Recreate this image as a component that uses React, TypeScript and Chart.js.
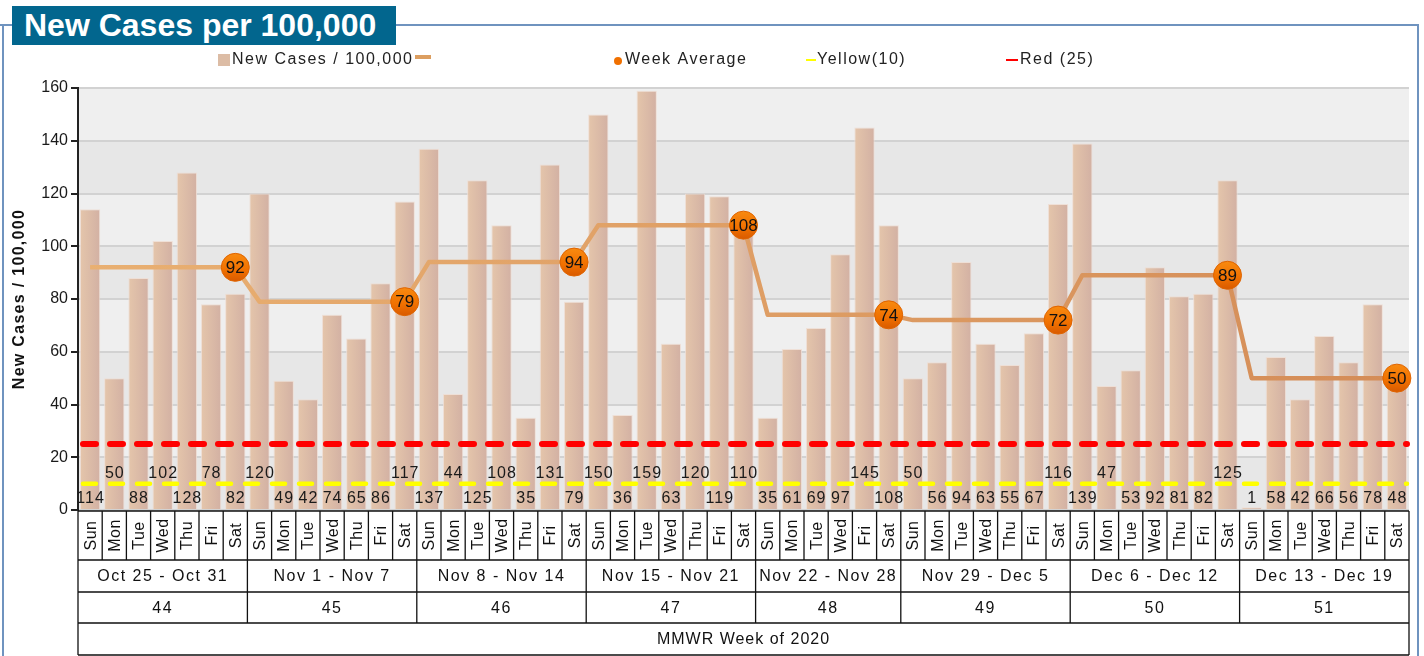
import React, { useEffect, useRef } from "react";
import { Chart, registerables } from "chart.js";

Chart.register(...registerables);

const FONT = '"Liberation Sans", Arial, sans-serif';

// ---------- data ----------
const chartTitle = "New Cases per 100,000";
const yAxisTitle = "New Cases / 100,000";
const xAxisTitle = "MMWR Week of 2020";
const barLabel = "New Cases / 100,000";
const avgLabel = "Week Average";
const yellowLabel = "Yellow(10)";
const redLabel = "Red (25)";

const weekRanges = [
  "Oct 25 - Oct 31",
  "Nov 1 - Nov 7",
  "Nov 8 - Nov 14",
  "Nov 15 - Nov 21",
  "Nov 22 - Nov 28",
  "Nov 29 - Dec 5",
  "Dec 6 - Dec 12",
  "Dec 13 - Dec 19",
];
const mmwrWeeks = ["44", "45", "46", "47", "48", "49", "50", "51"];

const fullWeek = ["Sun", "Mon", "Tue", "Wed", "Thu", "Fri", "Sat"];
const week48Days = ["Sun", "Mon", "Tue", "Wed", "Fri", "Sat"];
const weekDays = [fullWeek, fullWeek, fullWeek, fullWeek, week48Days, fullWeek, fullWeek, fullWeek];

const casesW44 = [114, 50, 88, 102, 128, 78, 82];
const casesW45 = [120, 49, 42, 74, 65, 86, 117];
const casesW46 = [137, 44, 125, 108, 35, 131, 79];
const casesW47 = [150, 36, 159, 63, 120, 119, 110];
const casesW48 = [35, 61, 69, 97, 145, 108];
const casesW49 = [50, 56, 94, 63, 55, 67, 116];
const casesW50 = [139, 47, 53, 92, 81, 82, 125];
const casesW51 = [1, 58, 42, 66, 56, 78, 48];
const newCases = [casesW44, casesW45, casesW46, casesW47, casesW48, casesW49, casesW50, casesW51];

const weekAverages = [92, 79, 94, 108, 74, 72, 89, 50];

const yellowLevel = 10;
const redLevel = 25;
const yMin = 0;
const yMax = 160;
const yStep = 20;

// ---------- derived (flattened) ----------
const dayLabels: string[] = [];
const barValues: number[] = [];
const avgValues: number[] = [];
const weekOfBar: number[] = [];
const isWeekEnd: boolean[] = [];
newCases.forEach((wk, w) => {
  wk.forEach((v, d) => {
    dayLabels.push(weekDays[w][d]);
    barValues.push(v);
    avgValues.push(weekAverages[w]);
    weekOfBar.push(w);
    isWeekEnd.push(d === wk.length - 1);
  });
});

const fin = (v: any) => typeof v === "number" && Number.isFinite(v);

// ---------- plugin ----------
const decorPlugin = {
  id: "decor",
  beforeDraw(chart: any) {
    const { ctx, chartArea: a, scales } = chart;
    const y = scales.y;
    ctx.save();
    const ticks = y.ticks.map((t: any) => t.value).sort((p: number, q: number) => p - q);
    for (let i = 0; i < ticks.length - 1; i++) {
      const top = y.getPixelForValue(ticks[i + 1]);
      const bot = y.getPixelForValue(ticks[i]);
      ctx.fillStyle = i % 2 === 1 ? "#efefef" : "#e7e7e7";
      ctx.fillRect(a.left, top, a.right - a.left, bot - top);
    }
    ctx.restore();
  },
  afterDatasetDraw(chart: any, args: any) {
    if (args.index !== 0) return;
    const { ctx, chartArea: a, scales } = chart;
    const x = scales.x;
    const y = scales.y;
    ctx.save();
    ctx.font = `16px ${FONT}`;
    (ctx as any).letterSpacing = "1px";
    ctx.fillStyle = "#1a1a1a";
    ctx.textAlign = "center";
    ctx.textBaseline = "middle";
    const lastRight = [-1e9, -1e9, -1e9];
    barValues.forEach((v, i) => {
      const cx = x.getPixelForValue(i);
      const txt = String(v);
      const w = ctx.measureText(txt).width;
      const left = cx - w / 2;
      let tier = 0;
      while (tier < 2 && left < lastRight[tier] + 2) tier++;
      lastRight[tier] = cx + w / 2;
      ctx.fillText(txt, cx + 0.5, a.bottom - 11 - tier * 25.5);
    });
    ctx.restore();

    const drawThreshold = (val: number, color: string, width: number, offset: number) => {
      const py = y.getPixelForValue(val);
      ctx.save();
      ctx.strokeStyle = color;
      ctx.lineWidth = width;
      ctx.lineCap = "round";
      ctx.setLineDash([13, 14]);
      ctx.lineDashOffset = offset;
      ctx.beginPath();
      ctx.moveTo(a.left + 5, py);
      ctx.lineTo(a.right - 2, py);
      ctx.stroke();
      ctx.restore();
    };
    drawThreshold(yellowLevel, "#ffff00", 4.5, 0);
    drawThreshold(redLevel, "#ff0000", 6, 0);
  },
  afterDatasetsDraw(chart: any) {
    const { ctx, scales } = chart;
    const x = scales.x;
    const y = scales.y;
    ctx.save();
    ctx.font = `17px ${FONT}`;
    ctx.fillStyle = "#111";
    ctx.textAlign = "center";
    ctx.textBaseline = "middle";
    avgValues.forEach((v, i) => {
      if (!isWeekEnd[i]) return;
      ctx.fillText(String(v), x.getPixelForValue(i), y.getPixelForValue(v) + 1);
    });
    ctx.restore();
  },
  afterDraw(chart: any) {
    const { ctx, chartArea: a, scales } = chart;
    const x = scales.x;
    const n = barValues.length;
    const cw = (a.right - a.left) / n;
    const rows = [a.bottom + 1, 560, 592, 623, 655];
    ctx.save();
    ctx.strokeStyle = "#111";
    ctx.lineWidth = 1.3;
    ctx.beginPath();
    rows.forEach((ry) => {
      ctx.moveTo(a.left, ry);
      ctx.lineTo(a.right, ry);
    });
    ctx.moveTo(a.left, rows[0]);
    ctx.lineTo(a.left, rows[4]);
    ctx.moveTo(a.right, rows[0]);
    ctx.lineTo(a.right, rows[4]);
    for (let i = 1; i < n; i++) {
      const bx = a.left + i * cw;
      ctx.moveTo(bx, rows[0]);
      const newWeek = weekOfBar[i] !== weekOfBar[i - 1];
      ctx.lineTo(bx, newWeek ? rows[3] : rows[1]);
    }
    ctx.stroke();

    ctx.fillStyle = "#111";
    ctx.font = `16px ${FONT}`;
    (ctx as any).letterSpacing = "0.5px";
    ctx.textAlign = "center";
    ctx.textBaseline = "middle";
    dayLabels.forEach((d, i) => {
      const cx = x.getPixelForValue(i);
      ctx.save();
      ctx.translate(cx + 1, (rows[0] + rows[1]) / 2);
      ctx.rotate(-Math.PI / 2);
      ctx.fillText(d, 0, 0);
      ctx.restore();
    });

    ctx.font = `16px ${FONT}`;
    (ctx as any).letterSpacing = "1.5px";
    let start = 0;
    weekRanges.forEach((r, w) => {
      const len = newCases[w].length;
      const l = a.left + start * cw;
      const rr = a.left + (start + len) * cw;
      const mid = (l + rr) / 2;
      ctx.fillText(r, mid, (rows[1] + rows[2]) / 2 + 1);
      ctx.fillText(mmwrWeeks[w], mid, (rows[2] + rows[3]) / 2 + 1);
      start += len;
    });
    (ctx as any).letterSpacing = "1px";
    ctx.fillText(xAxisTitle, (a.left + a.right) / 2, (rows[3] + rows[4]) / 2 + 1);

    ctx.save();
    ctx.font = `bold 16px ${FONT}`;
    (ctx as any).letterSpacing = "1.3px";
    ctx.translate(20, (a.top + a.bottom) / 2);
    ctx.rotate(-Math.PI / 2);
    ctx.fillText(yAxisTitle, 0, 0);
    ctx.restore();

    ctx.font = `16px ${FONT}`;
    (ctx as any).letterSpacing = "1.5px";
    ctx.textAlign = "left";
    const ly = 60;
    ctx.fillStyle = "#dcbca5";
    ctx.fillRect(218, 54, 12, 12);
    ctx.fillStyle = "#222";
    ctx.fillText(barLabel, 232, ly);
    ctx.fillStyle = "#dc9e60";
    ctx.fillRect(415, 55, 16, 4);
    ctx.fillStyle = "#f07000";
    ctx.beginPath();
    ctx.arc(618, 61, 4, 0, Math.PI * 2);
    ctx.fill();
    ctx.fillStyle = "#222";
    ctx.fillText(avgLabel, 625, ly);
    ctx.fillStyle = "#ffff00";
    ctx.fillRect(806, 59, 10, 2);
    ctx.fillStyle = "#222";
    ctx.fillText(yellowLabel, 817, ly);
    ctx.fillStyle = "#ff0000";
    ctx.fillRect(1006, 59, 12, 2);
    ctx.fillStyle = "#222";
    ctx.fillText(redLabel, 1020, ly);
    ctx.restore();
  },
};

export default function App() {
  const canvasRef = useRef<HTMLCanvasElement | null>(null);

  useEffect(() => {
    const canvas = canvasRef.current;
    if (!canvas) return;
    const chart = new Chart(canvas, {
      type: "bar",
      data: {
        labels: dayLabels.map((d, i) => `${d}-${i}`),
        datasets: [
          {
            type: "bar",
            label: barLabel,
            data: barValues,
            order: 2,
            barPercentage: 0.84,
            categoryPercentage: 1,
            borderWidth: 1,
            borderColor: "rgba(238,222,212,0.9)",
            backgroundColor: (c: any) => {
              const ch = c.chart;
              const xs = ch.scales && ch.scales.x;
              if (!xs || c.type !== "data") return "#dcbca5";
              const cx = xs.getPixelForValue(c.dataIndex);
              if (!fin(cx)) return "#dcbca5";
              const g = ch.ctx.createLinearGradient(cx - 10.5, 0, cx + 10.5, 0);
              g.addColorStop(0, "#e5c6ab");
              g.addColorStop(1, "#d2b0a3");
              return g;
            },
          } as any,
          {
            type: "line",
            label: avgLabel,
            data: avgValues,
            order: 1,
            borderWidth: 4.5,
            tension: 0,
            borderJoinStyle: "round",
            borderColor: (c: any) => {
              const ar = c.chart.chartArea;
              if (!ar || !fin(ar.left) || !fin(ar.right) || ar.right <= ar.left) return "#dca064";
              const g = c.chart.ctx.createLinearGradient(ar.left, 0, ar.right, 0);
              g.addColorStop(0, "#e9b072");
              g.addColorStop(1, "#d48c57");
              return g;
            },
            pointRadius: (c: any) => (isWeekEnd[c.dataIndex] ? 14 : 0),
            pointHoverRadius: (c: any) => (isWeekEnd[c.dataIndex] ? 14 : 0),
            pointBorderWidth: 1,
            pointBorderColor: "#e06400",
            pointBackgroundColor: (c: any) => {
              const ch = c.chart;
              const ys = ch.scales && ch.scales.y;
              if (!ys || c.type !== "data") return "#f07800";
              const py = ys.getPixelForValue(avgValues[c.dataIndex]);
              if (!fin(py)) return "#f07800";
              const g = ch.ctx.createLinearGradient(0, py - 14, 0, py + 14);
              g.addColorStop(0, "#f88a10");
              g.addColorStop(0.6, "#f07000");
              g.addColorStop(1, "#d85a00");
              return g;
            },
          } as any,
        ],
      },
      options: {
        responsive: false,
        animation: false,
        events: [],
        layout: { padding: { top: 88, right: 14, left: 0, bottom: 0 } },
        plugins: {
          legend: { display: false },
          tooltip: { enabled: false },
          title: { display: false },
        },
        scales: {
          x: {
            type: "category",
            offset: true,
            grid: { display: false },
            border: { display: false },
            ticks: { display: false },
            afterFit: (s: any) => {
              s.height = 146;
            },
          },
          y: {
            min: yMin,
            max: yMax,
            ticks: {
              stepSize: yStep,
              color: "#1a1a1a",
              font: { family: FONT, size: 16 },
              padding: 3,
            },
            grid: {
              color: "#d2d2d2",
              lineWidth: 2,
              tickColor: "#222",
              tickLength: 7,
              drawTicks: true,
            },
            border: { display: true, color: "#222", width: 2 },
            afterFit: (s: any) => {
              s.width = 78;
            },
          },
        },
      },
      plugins: [decorPlugin],
    });
    return () => chart.destroy();
  }, []);

  return (
    <div
      style={{
        position: "fixed",
        left: 0,
        top: 0,
        width: 1424,
        height: 656,
        background: "#ffffff",
        overflow: "hidden",
      }}
    >
      <div style={{ position: "absolute", left: 0, top: 24, width: 1419, height: 2, background: "#6f93bf" }} />
      <div style={{ position: "absolute", left: 2, top: 24, width: 2, height: 640, background: "#6f93bf" }} />
      <div style={{ position: "absolute", left: 1417, top: 24, width: 2, height: 640, background: "#6f93bf" }} />
      <canvas
        ref={canvasRef}
        width={1424}
        height={656}
        style={{ position: "absolute", left: 0, top: 0, width: 1424, height: 656 }}
      />
      <div
        style={{
          position: "absolute",
          left: 12,
          top: 6,
          width: 384,
          height: 39,
          background: "#02668e",
          color: "#ffffff",
          fontFamily: FONT,
          fontWeight: "bold",
          fontSize: 32,
          lineHeight: "39px",
          paddingLeft: 12,
          boxSizing: "border-box",
          whiteSpace: "nowrap",
        }}
      >
        {chartTitle}
      </div>
    </div>
  );
}
